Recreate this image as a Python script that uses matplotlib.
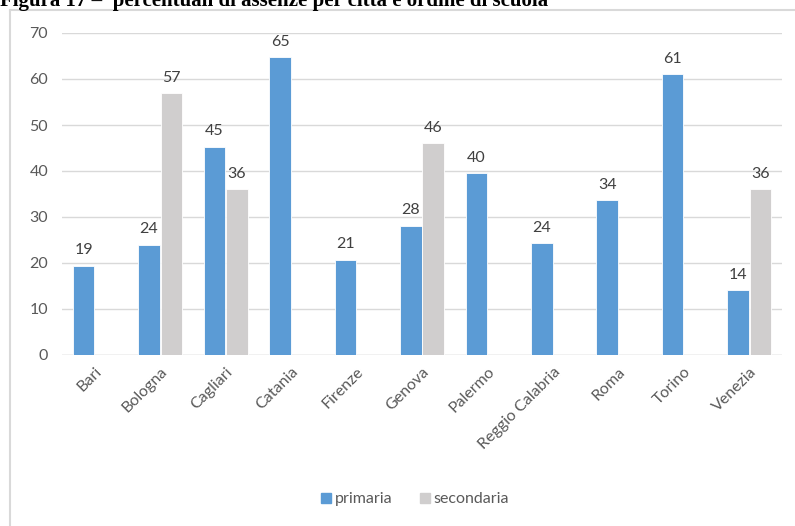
import numpy as np
import matplotlib.pyplot as plt
from matplotlib.lines import Line2D

cities = ['Bari', 'Bologna', 'Cagliari', 'Catania', 'Firenze', 'Genova',
          'Palermo', 'Reggio Calabria', 'Roma', 'Torino', 'Venezia']
primaria = [19.4, 24, 45.3, 64.7, 20.7, 28.1, 39.6, 24.3, 33.6, 61.1, 14.1]
secondaria = [np.nan, 56.9, 36.0, np.nan, np.nan, 46.0, np.nan, np.nan, np.nan, np.nan, 36.0]

BLUE = '#5b9bd5'
GRAY = '#d0cece'
TXT = '#595959'

def draw():
    plt.rcParams['font.family'] = ['Lato', 'DejaVu Sans']
    fig = plt.figure(figsize=(7.95, 5.26), dpi=100)
    ax = fig.add_axes([62/795, 1-355/526, 720/795, 322/526])

    x = np.arange(len(cities))
    w = 0.33
    b1 = ax.bar(x - w/2 - 0.005, primaria, w, color=BLUE, edgecolor='white', linewidth=0.6,
                label='primaria', zorder=3)
    b2 = ax.bar(x + w/2 + 0.005, secondaria, w, color=GRAY, edgecolor='white', linewidth=0.6,
                label='secondaria', zorder=3)

    for bars, vals in ((b1, primaria), (b2, secondaria)):
        for r, v in zip(bars, vals):
            if np.isnan(v):
                continue
            ax.annotate('%d' % round(v), (r.get_x() + r.get_width()/2, v),
                        xytext=(0, 6), textcoords='offset points',
                        ha='center', va='bottom', fontsize=11.5, color='#404040')

    ax.set_xlim(-0.5, len(cities) - 0.5)
    ax.set_ylim(0, 70)
    ax.set_yticks(range(0, 71, 10))
    ax.yaxis.grid(True, color='#d9d9d9', linewidth=1, zorder=0)
    for s in ax.spines.values():
        s.set_visible(False)
    ax.axhline(0, color='#d9d9d9', linewidth=1, zorder=2)
    ax.tick_params(length=0, labelsize=11.5, labelcolor=TXT)
    ax.tick_params(axis='y', pad=10)
    ax.tick_params(axis='x', pad=7)
    ax.set_xticks(x)
    ax.set_xticklabels(cities, rotation=45, ha='right', rotation_mode='anchor')

    handles = [Line2D([], [], marker='s', ls='', color=BLUE, markersize=7),
               Line2D([], [], marker='s', ls='', color=GRAY, markersize=7)]
    fig.legend(handles, ['primaria', 'secondaria'], loc='center',
               bbox_to_anchor=(414/795, 1-499/526), ncol=2, frameon=False,
               fontsize=11.5, labelcolor=TXT, handlelength=0.9, handletextpad=0.1,
               columnspacing=1.6)

    # chart frame (only top and left edges show in the crop)
    fig.add_artist(Line2D([10/795, 10/795], [0, 1-10/526], transform=fig.transFigure,
                          color='#d9d9d9', linewidth=1.5))
    fig.add_artist(Line2D([10/795, 1], [1-10/526, 1-10/526], transform=fig.transFigure,
                          color='#d9d9d9', linewidth=1.5))

    fig.text(0.0, 1-6/526, 'Figura 17 \u2013  percentuali di assenze per citt\u00e0 e ordine di scuola',
             family='Liberation Serif', weight='bold', fontsize=15, va='baseline', ha='left')

    fig.savefig('out.png', dpi=100)

def main():
    draw()

if __name__ == '__main__':
    main()
